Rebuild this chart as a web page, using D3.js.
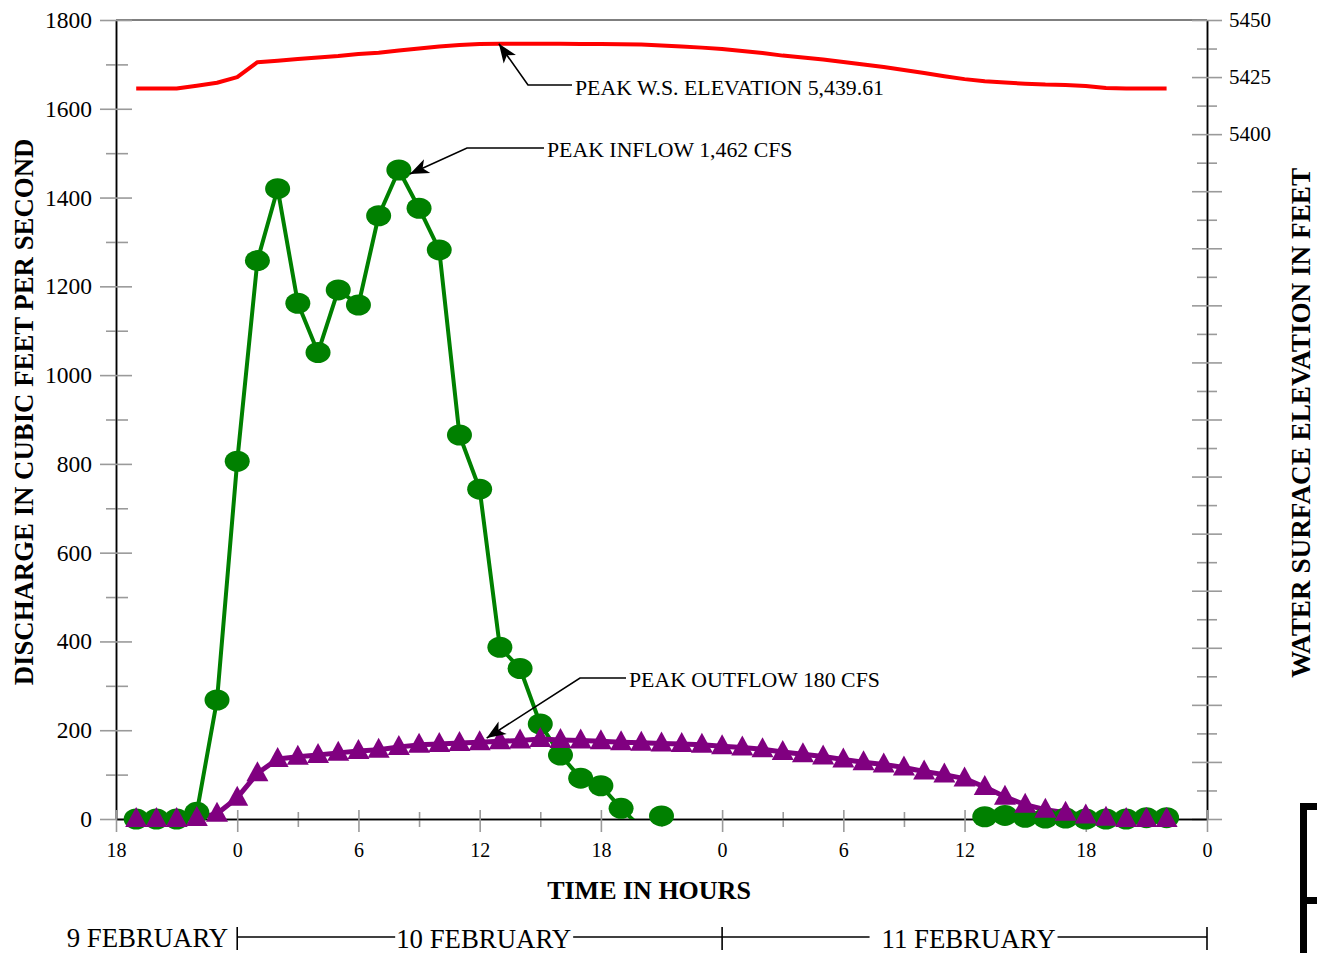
<!DOCTYPE html>
<html><head><meta charset="utf-8">
<script src="https://cdn.jsdelivr.net/npm/d3@7"></script>
<style>
body{margin:0;background:#fff}
svg{display:block}
text{font-family:"Liberation Serif","Times New Roman",serif;fill:#000}
</style>
</head><body>
<svg id="c" width="1317" height="953"></svg>
<script>
// ---------------- DATA ----------------
// hours relative to 00:00 on 10 February
const hours = [-5,-4,-3,-2,-1,0,1,2,3,4,5,6,7,8,9,10,11,12,13,14,15,16,17,18,19,20,21,22,23,24,25,26,27,28,29,30,31,32,33,34,35,36,37,38,39,40,41,42,43,44,45,46];
// inflow (cfs); null = not plotted, negative = below chart floor
const inflow = [0,0,0,15,268,806,1258,1420,1162,1051,1192,1158,1359,1462,1376,1282,865,743,387,339,214,144,92,75,24,-20,7,
  null,null,null,null,null,null,null,null,null,null,null,null,null,null,null,
  5,8,4,2,2,0,0,0,3,3];
// outflow (cfs)
const outflow = [0,0,0,2,12,48,103,135,140,144,149,153,156,162,167,169,171,173,175,177,180,178,177,175,173,172,170,169,167,164,161,157,151,146,141,134,128,123,116,107,100,91,72,50,32,21,14,8,3,0,0,0];
// water surface elevation (ft)
const elevation = [5420.0,5420.0,5420.0,5421.2,5422.5,5425.0,5431.5,5432.2,5432.9,5433.6,5434.2,5435.1,5435.7,5436.6,5437.5,5438.4,5439.0,5439.5,5439.6,5439.61,5439.6,5439.6,5439.5,5439.5,5439.4,5439.25,5438.8,5438.4,5437.9,5437.3,5436.4,5435.5,5434.4,5433.6,5432.7,5431.6,5430.5,5429.4,5428.1,5426.8,5425.4,5424.1,5423.2,5422.6,5422.1,5421.7,5421.5,5421.1,5420.2,5420.0,5420.0,5420.0];

const xMajorTicks = [-6,0,6,12,18,24,30,36,42,48];
const xTickLabels = ["18","0","6","12","18","0","6","12","18","0"];
const xMinorTicks = [-3,3,9,15,21,27,33,39,45];
const leftMajorTicks = [0,200,400,600,800,1000,1200,1400,1600,1800];
const leftMinorTicks = [100,300,500,700,900,1100,1300,1500,1700];
const rightMajorTicks = [5100,5125,5150,5175,5200,5225,5250,5275,5300,5325,5350,5375,5400,5425,5450];
const rightMinorTicks = [5112.5,5137.5,5162.5,5187.5,5212.5,5237.5,5262.5,5287.5,5312.5,5337.5,5362.5,5387.5,5412.5,5437.5];
const rightLabelled = [5400,5425,5450];
const dateLabels = ["9 FEBRUARY","10 FEBRUARY","11 FEBRUARY"];
const dateBoundaries = [0,24,48];

// ---------------- CHART ----------------
const svg = d3.select("#c");
const L = 116, R = 1207, T = 20, B = 819;
const x = d3.scaleLinear().domain([-6,48]).range([L,R]);
const yL = d3.scaleLinear().domain([0,1800]).range([B,T]);
const yR = d3.scaleLinear().domain([5100,5450]).range([B,T]);
const tickGray = "#9a9a9a";

svg.append("defs").append("clipPath").attr("id","clip")
  .append("rect").attr("x",L).attr("y",T).attr("width",R-L).attr("height",B-T);

// top frame line
svg.append("line").attr("x1",L).attr("x2",R).attr("y1",T).attr("y2",T)
  .attr("stroke","#555").attr("stroke-width",1.5);

function styleAxis(g, size){
  g.attr("font-family",'"Liberation Serif","Times New Roman",serif').attr("font-size",size);
  g.selectAll(".tick line").attr("stroke",tickGray).attr("stroke-width",1.6);
  g.select(".domain").attr("stroke","#000").attr("stroke-width",1.5);
  g.selectAll("text").attr("fill","#000");
}

// left axis
const gLmin = svg.append("g").attr("transform",`translate(${L},0)`)
  .call(d3.axisLeft(yL).tickValues(leftMinorTicks).tickSize(10).tickSizeOuter(0).tickFormat(""));
gLmin.selectAll(".tick line").attr("x1",12);
styleAxis(gLmin,23);
const gL = svg.append("g").attr("transform",`translate(${L},0)`)
  .call(d3.axisLeft(yL).tickValues(leftMajorTicks).tickSize(16).tickSizeOuter(0).tickPadding(8).tickFormat(d3.format("d")));
gL.selectAll(".tick line").attr("x1",16);
styleAxis(gL,23.5);

// right axis
const gRmin = svg.append("g").attr("transform",`translate(${R},0)`)
  .call(d3.axisRight(yR).tickValues(rightMinorTicks).tickSize(10).tickSizeOuter(0).tickFormat(""));
gRmin.selectAll(".tick line").attr("x1",-10);
styleAxis(gRmin,21);
const gR = svg.append("g").attr("transform",`translate(${R},0)`)
  .call(d3.axisRight(yR).tickValues(rightMajorTicks).tickSize(15).tickSizeOuter(0).tickPadding(7)
    .tickFormat(d => rightLabelled.includes(d) ? d : ""));
gR.selectAll(".tick line").attr("x1",-15);
styleAxis(gR,21);

// bottom axis
const gBmin = svg.append("g").attr("transform",`translate(0,${B})`)
  .call(d3.axisBottom(x).tickValues(xMinorTicks).tickSize(8).tickSizeOuter(0).tickFormat(""));
gBmin.selectAll(".tick line").attr("y1",-7);
styleAxis(gBmin,20);
const gB = svg.append("g").attr("transform",`translate(0,${B})`)
  .call(d3.axisBottom(x).tickValues(xMajorTicks).tickSize(13).tickSizeOuter(0).tickPadding(11)
    .tickFormat((d,i) => xTickLabels[i]));
gB.selectAll(".tick line").attr("y1",-9);
styleAxis(gB,20);

// axis titles
svg.append("text").attr("x",649).attr("y",899).attr("text-anchor","middle")
  .attr("font-weight","bold").attr("font-size",26).text("TIME IN HOURS");
svg.append("text").attr("transform","translate(33,412) rotate(-90)").attr("text-anchor","middle")
  .attr("font-weight","bold").attr("font-size",26.8).text("DISCHARGE IN CUBIC FEET PER SECOND");
svg.append("text").attr("transform","translate(1310,423) rotate(-90)").attr("text-anchor","middle")
  .attr("font-weight","bold").attr("font-size",27.2).text("WATER SURFACE ELEVATION IN FEET");

// ---------------- SERIES ----------------
const plotG = svg.append("g");
const lineG = plotG.append("g").attr("clip-path","url(#clip)");

const elevData = hours.map((h,i)=>({h, v:elevation[i]}));
const inData = hours.map((h,i)=>({h, v:inflow[i]}));
const outData = hours.map((h,i)=>({h, v:outflow[i]}));

lineG.append("path").datum(elevData)
  .attr("fill","none").attr("stroke","#ff0000").attr("stroke-width",4).attr("stroke-linejoin","round")
  .attr("d", d3.line().x(d=>x(d.h)).y(d=>yR(d.v)));

lineG.append("path").datum(inData)
  .attr("fill","none").attr("stroke","#008000").attr("stroke-width",4).attr("stroke-linejoin","round")
  .attr("d", d3.line().defined(d=>d.v!=null).x(d=>x(d.h)).y(d=>yL(d.v)));

plotG.append("g").selectAll("ellipse").data(inData.filter(d=>d.v!=null && d.v>=0)).join("ellipse")
  .attr("cx",d=>x(d.h)).attr("cy",d=>yL(d.v)).attr("rx",12.5).attr("ry",10.5).attr("fill","#008000");

lineG.append("path").datum(outData)
  .attr("fill","none").attr("stroke","#800080").attr("stroke-width",5).attr("stroke-linejoin","round")
  .attr("d", d3.line().x(d=>x(d.h)).y(d=>yL(d.v)));

plotG.append("g").selectAll("path").data(outData).join("path")
  .attr("transform",d=>`translate(${x(d.h)},${yL(d.v)})`)
  .attr("d","M0,-12L11,8L-11,8Z").attr("fill","#800080");

// ---------------- ANNOTATIONS ----------------
function arrowHead(g, tip, from){
  const a = Math.atan2(tip[1]-from[1], tip[0]-from[0]) * 180/Math.PI;
  g.append("path").attr("d","M0,0L-19,-7.5L-14,0L-19,7.5Z").attr("fill","#000")
    .attr("transform",`translate(${tip[0]},${tip[1]}) rotate(${a})`);
}
function annotate(tip, elbow, textX, textY, label){
  const g = svg.append("g");
  g.append("path").attr("fill","none").attr("stroke","#000").attr("stroke-width",1.6)
    .attr("d",`M${tip[0]},${tip[1]}L${elbow[0]},${elbow[1]}L${textX-3},${elbow[1]}`);
  arrowHead(g, tip, elbow);
  g.append("text").attr("x",textX).attr("y",textY).attr("font-size",21.8).text(label);
}
const peakWS = 5439.61, peakIn = 1462, peakOut = 180;
annotate([x(13)-1, yR(peakWS)], [528,85], 575, 95, "PEAK W.S. ELEVATION 5,439.61");
annotate([x(8)+11, yL(peakIn)+4], [467,148], 547, 157, "PEAK INFLOW 1,462 CFS");
annotate([x(12)+7, yL(peakOut)-1], [580,678], 629, 687, "PEAK OUTFLOW 180 CFS");

// ---------------- DATE ROW ----------------
const dRow = svg.append("g");
const rowY = 937, rowBase = 947;
dateBoundaries.forEach(h=>{
  dRow.append("line").attr("x1",x(h)).attr("x2",x(h)).attr("y1",927).attr("y2",950)
    .attr("stroke","#000").attr("stroke-width",1.6);
});
const t9 = dRow.append("text").attr("x",x(0)-9).attr("y",rowBase).attr("text-anchor","end")
  .attr("font-size",26.8).text(dateLabels[0]);
const t10 = dRow.append("text").attr("x",x(12)+4).attr("y",rowBase+1).attr("text-anchor","middle")
  .attr("font-size",26.8).text(dateLabels[1]);
const t11 = dRow.append("text").attr("x",x(36)+4).attr("y",rowBase+1).attr("text-anchor","middle")
  .attr("font-size",26.8).text(dateLabels[2]);
const b10 = t10.node().getBBox(), b11 = t11.node().getBBox();
const segs = [[x(0), b10.x-1],[b10.x+b10.width+2, x(24)],[x(24), b11.x-12],[b11.x+b11.width+2, x(48)]];
segs.forEach(s=>{
  dRow.append("line").attr("x1",s[0]).attr("x2",s[1]).attr("y1",rowY).attr("y2",rowY)
    .attr("stroke","#000").attr("stroke-width",1.6);
});

// bracket fragment at bottom right
svg.append("path").attr("fill","none").attr("stroke","#000").attr("stroke-width",7)
  .attr("d","M1300,806.5H1317M1303.5,803V953M1303.5,900.5H1317");
</script>
</body></html>
